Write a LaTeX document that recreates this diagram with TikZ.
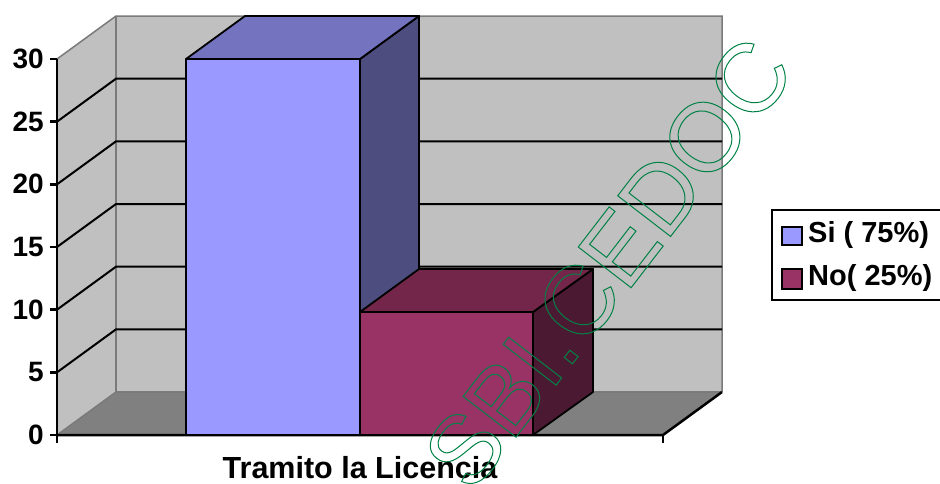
\documentclass[tikz,border=0pt]{standalone}
\usepackage{fontspec}
\setmainfont{Liberation Sans}
\definecolor{wallc}{HTML}{C0C0C0}
\definecolor{floorc}{HTML}{808080}
\definecolor{edgec}{HTML}{7A7A7A}
\definecolor{blueF}{HTML}{9999FF}
\definecolor{blueT}{HTML}{7373BF}
\definecolor{blueS}{HTML}{4D4D80}
\definecolor{redF}{HTML}{993366}
\definecolor{redT}{HTML}{732649}
\definecolor{redS}{HTML}{4C1933}
\definecolor{wm}{RGB}{0,130,70}
\begin{document}
\begin{tikzpicture}[x=1pt,y=-1pt,
  gridline/.style={black,line width=2pt},
  axisline/.style={black,line width=2.5pt},
  barface/.style={draw=black,line width=1.8pt,line join=round},
  edgeline/.style={edgec,line width=1.5pt},
  ticklab/.style={anchor=east,inner sep=0pt,font=\bfseries\fontsize{28}{28}\selectfont},
  legtext/.style={anchor=west,inner sep=0pt,font=\bfseries\fontsize{29}{29}\selectfont}]
\useasboundingbox (0,0) rectangle (940,483);
% walls and floor
\fill[wallc] (57,435)--(116,392)--(116,16)--(57,59)--cycle;
\fill[wallc] (116,16) rectangle (722,392);
\fill[floorc] (57,435)--(116,392)--(722,392)--(663,435)--cycle;
\draw[edgeline] (57,59)--(116,16)--(722,16)--(722,392);
\draw[edgeline] (116,16)--(116,392)--(722,392);
\draw[edgeline] (57,435)--(116,392);
% gridlines
\foreach \v in {5,10,15,20,25}{
  \pgfmathsetmacro\yf{435-\v*12.533}
  \pgfmathsetmacro\yb{\yf-43}
  \draw[gridline] (57,\yf)--(116,\yb)--(722,\yb);
}
% axes
\draw[axisline] (57,59)--(57,443);
\draw[axisline] (57,435)--(663,435)--(722,392);
\draw[axisline] (663,435)--(663,443);
\foreach \v in {0,5,10,15,20,25,30}{
  \pgfmathsetmacro\yf{435-\v*12.533}
  \draw[axisline] (50,\yf)--(57,\yf);
  \node[ticklab] (t\v) at (44,\yf) {\v};
}
% blue bar
\filldraw[barface,fill=blueS] (360,59)--(419,16)--(419,392)--(360,435)--cycle;
\filldraw[barface,fill=blueT] (186,59)--(245,16)--(419,16)--(360,59)--cycle;
\filldraw[barface,fill=blueF] (186,59) rectangle (360,435);
% red bar
\filldraw[barface,fill=redS] (533,312)--(593,269)--(593,392)--(533,435)--cycle;
\filldraw[barface,fill=redT] (360,312)--(419,269)--(593,269)--(533,312)--cycle;
\filldraw[barface,fill=redF] (360,312) rectangle (533,435);
% base line over bars
\draw[axisline] (57,435)--(663,435);
% title
\node[anchor=base,inner sep=0pt,font=\bfseries\fontsize{30.5}{30.5}\selectfont] (title) at (360,478) {Tramito la Licencia};
% legend
\draw[black,line width=1.5pt] (772,210) rectangle (948,300);
\draw[black,line width=1.3pt,fill=blueF] (782,227) rectangle (802,245);
\draw[black,line width=1.3pt,fill=redF] (782,269) rectangle (802,289);
\node[legtext] (l1) at (808,235) {Si ( 75\%)};
\node[legtext] (l2) at (808,278) {No( 25\%)};
% watermark
\node[rotate=52.4,inner sep=0pt,text=wm,font=\fontsize{97}{97}\selectfont] (wmk) at (608,263)
  {\special{pdf:literal direct 1 Tr 1 w}SBI.CEDOC\special{pdf:literal direct 0 Tr}};
\end{tikzpicture}
\end{document}
